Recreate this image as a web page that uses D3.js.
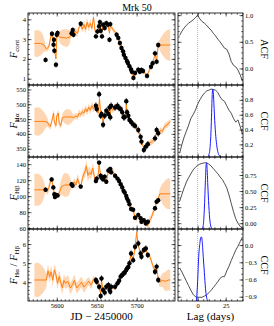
<!DOCTYPE html>
<html>
<head>
<meta charset="utf-8">
<script src="https://cdn.jsdelivr.net/npm/d3@7"></script>
<style>
body { margin: 0; background: #fff; }
text { font-family: "Liberation Serif", "DejaVu Serif", serif; }
</style>
</head>
<body>
<div id="chart-area"></div>
<script>
// light curves: [JD - 2450000, value]
const contPts = [[5586,1.95],[5594,3.27],[5596,2.72],[5596.5,2.97],[5597,2.41],[5599,1.7],[5600,3.22],[5601,3.31],
  [5618.6,3.3],[5620,3.46],[5621,3.22],[5630,3.78],[5649,3.14],[5651,3.39],[5653,3.65],[5654,3.86],[5655,3.42],
  [5656.6,3.14],[5658,3.73],[5660,3.56],[5662,3.81],[5664,3.73],[5666,2.97],[5667,3.76],[5675,3.22],[5677,3.06],
  [5679,2.8],[5681,2.55],[5683,2.38],[5684,2.21],[5686,2.05],[5688,1.88],[5689,1.79],[5691,1.63],[5693,1.46],
  [5694,1.35],[5696,1.04],[5698,1.29],[5702,1.45],[5704,1.35],[5706,1.44],[5708,1.39],[5713,1.14],[5718,1.6],
  [5720,1.78],[5723,2.28],[5725,1.86],[5727,2.7]];

const lineJD = [5649,5650,5653,5655,5656,5658,5660,5662,5664.6,5666,5667,5668,5673,5676,5678,5680,5682,5683.6,
  5685,5687,5688,5689.6,5691,5693,5695.6,5698,5702,5705,5706,5709,5711.5,5714,5723,5725,5727];
const haFlux = [495,484,534,461,467,431,461,478,467,489,456,495,489,495,487,484,473,456,456,510,473,461,447,
  440,432,427,413,390,374,346,357,365,385,413,402];
const hbFlux = [119,122,142,125.5,123,121,124.5,118,132,133,134,130,125.5,122,119,115,111,106.7,104.6,100.4,97,
  94,90,84,83,73,76.6,72.5,68,70,66,68,85,93,95];
const ratioVal = [4.12,4.03,3.77,3.28,4.2,3.6,3.46,3.77,3.86,3.6,3.5,3.77,3.77,3.95,4.08,4.3,4.38,4.47,4.5,4.64,
  4.73,4.8,5.0,5.51,5.16,5.86,6.03,5.51,5.34,5.69,5.77,5.43,4.55,4.82,4.12];
const hbEarlyPts = [[5586,108],[5593.6,121],[5595.7,111],[5597,102.5],[5597.7,99],[5599,101.7],[5601,101],
  [5618.6,115],[5619.8,113],[5630,112]];

// typical error bars [days, flux]
const contErr = [1, 0.13], haErr = [1, 11], hbErr = [1, 2.8], ratioErr = [1, 0.16];

// model light curves: [JD, mean, 1-sigma]
const contModel = [[5572,2.78,0.65],[5576,2.78,0.68],[5580,2.78,0.6],[5584,2.7,0.35],[5587,2.5,0.12],[5590,2.6,0.15],
  [5593,3.2,0.1],[5594.5,3.25,0.1],[5596,2.75,0.1],[5597.5,2.35,0.12],[5599,2.0,0.12],[5600,3.1,0.1],[5601.5,3.2,0.1],
  [5604,3.1,0.3],[5608,3.08,0.42],[5612,3.05,0.45],[5616,3.1,0.35],[5619,3.3,0.1],[5621,3.2,0.1],[5623,3.4,0.15],
  [5626,3.3,0.18],[5628,3.6,0.12],[5630,3.7,0.1],[5632,3.5,0.15],[5634,3.75,0.2],[5636,3.5,0.2],[5638,3.85,0.2],
  [5640,3.6,0.2],[5642,3.8,0.18],[5644,3.55,0.18],[5646,4.1,0.15],[5648,3.4,0.12],[5650,3.35,0.08],[5652,3.55,0.08],
  [5654,3.8,0.08],[5656,3.3,0.08],[5658,3.7,0.08],[5660,3.55,0.08],[5662,3.75,0.08],[5664,3.7,0.08],[5666,3.3,0.08],
  [5667,3.7,0.08],[5670,3.5,0.12],[5673,3.35,0.12],[5675,3.22,0.08],[5679,2.8,0.08],[5683,2.38,0.08],[5686,2.05,0.08],
  [5689,1.8,0.08],[5693,1.45,0.08],[5696,1.1,0.08],[5699,1.3,0.1],[5702,1.42,0.1],[5706,1.4,0.1],[5709,1.35,0.1],
  [5713,1.15,0.1],[5716,1.45,0.12],[5719,1.7,0.1],[5721,1.9,0.1],[5723,2.25,0.1],[5725,1.9,0.1],[5727,2.7,0.08],
  [5730,2.7,0.35],[5734,2.7,0.6],[5738,2.7,0.75],[5742,2.7,0.8]];
const haModel = [[5572,442,45],[5576,442,48],[5580,442,44],[5584,442,32],[5588,440,15],[5590,430,10],[5592,425,10],
  [5594,445,10],[5596,470,10],[5597,440,10],[5599,428,10],[5600,460,10],[5602,470,10],[5603,435,10],[5605,428,10],
  [5607,455,12],[5610,457,22],[5614,457,27],[5618,457,20],[5621,455,10],[5624,460,10],[5626,458,10],[5628,470,12],
  [5630,465,10],[5632,475,12],[5634,470,12],[5636,485,12],[5638,475,12],[5640,490,12],[5642,480,12],[5644,495,12],
  [5646,485,12],[5648,495,10],[5650,480,8],[5652,470,8],[5653.5,520,8],[5655,465,8],[5657,455,8],[5658,440,8],
  [5660,465,8],[5662,475,8],[5664,470,8],[5666,485,8],[5667,460,8],[5668,490,8],[5670,480,10],[5673,488,8],
  [5676,492,8],[5678,485,8],[5680,482,8],[5682,470,8],[5684,460,8],[5686,462,8],[5687,500,8],[5688,470,8],
  [5690,458,8],[5692,445,8],[5694,440,8],[5696,432,8],[5698,428,8],[5700,420,8],[5702,410,8],[5705,390,8],
  [5706,376,8],[5708,360,8],[5709,350,8],[5711,360,8],[5714,366,8],[5717,370,10],[5720,375,10],[5723,385,8],
  [5725,408,8],[5727,400,8],[5730,412,10],[5732,408,10],[5735,425,10],[5738,430,10],[5742,442,10]];
const hbModel = [[5572,108,20],[5576,108,20],[5580,108,18],[5584,108,10],[5586,108,3],[5588,106,4],[5590,110,5],
  [5592,118,4],[5593.6,121,3],[5595.7,111,3],[5597,102,3],[5598,99,3],[5599,101,3],[5601,101,3],[5603,104,6],
  [5606,112,10],[5610,114,15],[5614,114,14],[5617,114,8],[5618.6,115,3],[5620,113,3],[5622,118,4],[5624,114,4],
  [5626,122,5],[5628,116,5],[5630,112,3],[5632,122,5],[5634,128,6],[5636,132,7],[5637,138,7],[5639,126,7],
  [5641,130,7],[5643,127,6],[5645,135,6],[5647,125,5],[5649,119,3],[5650,122,3],[5652,128,3],[5653,140,3],
  [5655,125,3],[5656,123,3],[5658,121,3],[5660,124,3],[5662,118,3],[5664.6,131,3],[5666,133,3],[5667,134,3],
  [5668,130,3],[5670,131,4],[5673,125.5,3],[5676,122,3],[5678,119,3],[5680,115,3],[5682,111,3],[5684,106.7,3],
  [5685,104.6,3],[5687,100,3],[5688,97,3],[5690,93,3],[5691,90,3],[5693,85,3],[5695.6,82,3],[5698,74,3],
  [5700,72,4],[5702,75,3],[5705,71,3],[5706,68,3],[5709,68,3],[5711.5,65,3],[5714,63,3],[5716,70,4],[5718,72,4],
  [5720,78,4],[5723,85,3],[5725,93,3],[5727,97,3],[5729,103,6],[5732,103,12],[5736,103,17],[5740,103,19],[5742,103,19]];
const ratioModel = [[5572,4.12,0.85],[5576,4.12,0.9],[5580,4.12,0.8],[5584,4.12,0.6],[5587,4.12,0.35],[5589,4.6,0.3],
  [5591,4.3,0.3],[5593,4.55,0.28],[5595,4.1,0.28],[5597,4.65,0.28],[5599,4.4,0.28],[5601,3.95,0.28],[5603,4.3,0.3],
  [5605,4.0,0.3],[5607,3.7,0.3],[5609,4.1,0.3],[5611,3.95,0.3],[5614,4.05,0.3],[5617,3.7,0.3],[5620,3.9,0.28],
  [5622,4.1,0.28],[5625,3.7,0.28],[5628,3.85,0.28],[5631,4.0,0.28],[5634,3.75,0.28],[5637,3.9,0.25],[5640,4.05,0.22],
  [5643,3.85,0.2],[5646,4.15,0.18],[5649,4.1,0.1],[5651,4.0,0.1],[5653,3.75,0.1],[5655,3.4,0.1],[5656,4.1,0.1],
  [5658,3.55,0.1],[5660,3.5,0.1],[5662,3.75,0.1],[5664.6,3.8,0.1],[5666,3.6,0.1],[5667,3.55,0.1],[5668,3.75,0.1],
  [5670,3.7,0.12],[5673,3.78,0.1],[5676,3.95,0.1],[5678,4.05,0.1],[5680,4.25,0.1],[5682,4.35,0.1],[5684,4.45,0.1],
  [5685,4.5,0.1],[5687,4.62,0.1],[5688,4.72,0.1],[5690,4.85,0.1],[5691,5.05,0.1],[5693,5.45,0.1],[5695.6,5.2,0.1],
  [5698,5.8,0.1],[5700,6.6,0.12],[5702,5.95,0.1],[5705,5.5,0.1],[5706,5.4,0.1],[5709,5.65,0.1],[5711.5,5.7,0.1],
  [5714,5.45,0.1],[5717,5.3,0.15],[5720,4.9,0.15],[5723,4.6,0.1],[5725,4.75,0.1],[5727,4.2,0.1],[5729,4.0,0.25],
  [5732,4.1,0.35],[5736,4.05,0.5],[5740,4.12,0.55],[5742,4.12,0.55]];

// correlation functions
const ccfLag = [-16,-14,-12,-10,-8,-6,-4,-2,0,2,4,6,8,10,12,14,16,18,20,22,24,26,28,30,32,34,36,38,40];
const acf = [0.62,0.70,0.76,0.81,0.85,0.88,0.91,0.95,1.0,0.93,0.88,0.85,0.81,0.76,0.72,0.66,0.61,0.55,0.50,0.44,
  0.38,0.36,0.27,0.13,0.06,0.03,-0.03,-0.12,-0.24];
const ccfHa = [0.08,0.2,0.3,0.38,0.46,0.55,0.6,0.66,0.74,0.8,0.85,0.89,0.92,0.93,0.945,0.94,0.93,0.9,0.84,0.8,0.78,
  0.72,0.66,0.62,0.55,0.5,0.53,0.44,0.34];
const ccfHb = [0.34,0.45,0.55,0.64,0.71,0.77,0.83,0.87,0.9,0.92,0.93,0.94,0.94,0.92,0.89,0.85,0.81,0.77,0.72,0.68,
  0.62,0.55,0.44,0.31,0.18,0.07,0.0,-0.05,-0.08];
const ccfRatio = [-0.40,-0.47,-0.55,-0.63,-0.71,-0.79,-0.86,-0.90,-0.91,-0.91,-0.91,-0.89,-0.87,-0.83,-0.79,-0.74,
  -0.69,-0.64,-0.58,-0.55,-0.55,-0.45,-0.37,-0.27,-0.18,-0.09,-0.02,0.06,0.14];

// lag distributions (normalised)
const cccdHaLag = [9,10,11,12,12.5,13,13.5,14,14.5,15,16,17,18,19,20,21];
const cccdHa = [0,0.03,0.12,0.4,0.65,0.9,1.0,0.95,0.8,0.62,0.35,0.18,0.08,0.03,0.01,0];
const cccdHbLag = [4,5,6,7,7.5,8,8.5,9,10,11,12,13];
const cccdHb = [0,0.05,0.3,0.75,0.95,1.0,0.9,0.7,0.35,0.12,0.03,0];
const cccdRatioLag = [-1,0,1,2,3,3.5,4,5,6,7,8,9];
const cccdRatio = [0,0.3,0.7,0.9,1.0,1.0,0.95,0.7,0.45,0.2,0.06,0];

// tick labels
const jdTicks = [5600, 5650, 5700], lagTicks = [0, 25];
const contTicks = [1, 2, 3, 4], haTicks = [350, 400, 450, 500, 550], hbTicks = [60, 80, 100, 120, 140], ratioTicks = [4, 5, 6];
const acfTicks = [0, 0.5, 1.0], ccfHaTicks = [0.2, 0.4, 0.6, 0.8], ccfHbTicks = [0, 0.25, 0.5, 0.75], ccfRatioTicks = [-0.9, -0.6, -0.3, 0];

const svg = d3.select("#chart-area").append("svg").attr("width", 274).attr("height", 326);
svg.append("rect").attr("width", 274).attr("height", 326).attr("fill", "#fff");

const rowTop = [13, 85, 157, 229], rowH = 72;
const xJD = d3.scaleLinear().domain([5564, 5748]).range([28, 175]);
const xLag = d3.scaleLinear().domain([-17.5, 40.5]).range([178, 243]);
const yRange = i => [rowTop[i] + rowH, rowTop[i]];

const yCont = d3.scaleLinear().domain([0.68, 4.32]).range(yRange(0));
const yHa = d3.scaleLinear().domain([322, 565]).range(yRange(1));
const yHb = d3.scaleLinear().domain([59, 149]).range(yRange(2));
const yRatio = d3.scaleLinear().domain([3.02, 6.79]).range(yRange(3));
const yAcf = d3.scaleLinear().domain([-0.31, 1.04]).range(yRange(0));
const yCcfHa = d3.scaleLinear().domain([0.03, 1.0]).range(yRange(1));
const yCcfHb = d3.scaleLinear().domain([-0.09, 1.03]).range(yRange(2));
const yCcfRatio = d3.scaleLinear().domain([-0.975, 0.28]).range(yRange(3));

const orange = "#ff7f0e";

function axes(x, y, o) {
  const [xl, xr] = x.range(), [yb, yt] = y.range();
  const g = svg.append("g");
  const add = (gen, tr, vals, size, fmt) => {
    const a = g.append("g").attr("transform", tr)
      .call(gen.tickValues(vals).tickSize(size).tickPadding(2).tickFormat(fmt || (() => "")));
    a.select(".domain").remove();
    a.attr("font-family", null).attr("font-size", 6.5);
    a.selectAll("line").attr("stroke-width", 0.6);
    return a;
  };
  add(d3.axisBottom(x), `translate(0,${yb})`, o.xMinor, -1.8);
  add(d3.axisBottom(x), `translate(0,${yb})`, o.xTicks, -3.5, o.xLabels ? d3.format("d") : null);
  add(d3.axisTop(x), `translate(0,${yt})`, o.xMinor, -1.8);
  add(d3.axisTop(x), `translate(0,${yt})`, o.xTicks, -3.5);
  add(d3.axisLeft(y), `translate(${xl},0)`, o.yMinor, -1.8);
  add(d3.axisLeft(y), `translate(${xl},0)`, o.yTicks, -3.5, o.side === "left" ? o.yFmt : null);
  add(d3.axisRight(y), `translate(${xr},0)`, o.yMinor, -1.8);
  add(d3.axisRight(y), `translate(${xr},0)`, o.yTicks, -3.5, o.side === "right" ? o.yFmt : null);
  g.append("rect").attr("x", xl).attr("y", yt).attr("width", xr - xl).attr("height", yb - yt)
    .attr("fill", "none").attr("stroke", "#000").attr("stroke-width", 0.8);
}

function clipFor(id, x, y) {
  const [xl, xr] = x.range(), [yb, yt] = y.range();
  svg.append("clipPath").attr("id", id).append("rect")
    .attr("x", xl).attr("y", yt).attr("width", xr - xl).attr("height", yb - yt);
  return svg.append("g").attr("clip-path", `url(#${id})`);
}

function lightCurve(i, y, model, pts, err) {
  const g = clipFor("lc" + i, xJD, y);
  g.append("path").datum(model)
    .attr("d", d3.area().x(d => xJD(d[0])).y0(d => y(d[1] - d[2])).y1(d => y(d[1] + d[2])).curve(d3.curveMonotoneX))
    .attr("fill", orange).attr("fill-opacity", 0.32);
  g.append("path").datum(model)
    .attr("d", d3.line().x(d => xJD(d[0])).y(d => y(d[1])))
    .attr("fill", "none").attr("stroke", orange).attr("stroke-width", 1);
  const p = g.selectAll(".pt").data(pts).enter().append("g");
  p.append("line").attr("x1", d => xJD(d[0])).attr("x2", d => xJD(d[0]))
    .attr("y1", d => y(d[1] - err[1])).attr("y2", d => y(d[1] + err[1]))
    .attr("stroke", "#000").attr("stroke-width", 0.8);
  p.append("line").attr("x1", d => xJD(d[0] - err[0])).attr("x2", d => xJD(d[0] + err[0]))
    .attr("y1", d => y(d[1])).attr("y2", d => y(d[1]))
    .attr("stroke", "#000").attr("stroke-width", 0.8);
  p.append("circle").attr("cx", d => xJD(d[0])).attr("cy", d => y(d[1])).attr("r", 2.2).attr("fill", "#000");
}

function corrPanel(i, y, ccf, dLag, dens) {
  const g = clipFor("cf" + i, xLag, y);
  const [yb, yt] = y.range();
  g.append("line").attr("x1", xLag(0)).attr("x2", xLag(0)).attr("y1", yb).attr("y2", yt)
    .attr("stroke", "#aaa").attr("stroke-width", 0.8).attr("stroke-dasharray", "1,1");
  g.append("path").datum(ccfLag.map((l, k) => [l, ccf[k]]))
    .attr("d", d3.line().x(d => xLag(d[0])).y(d => y(d[1])))
    .attr("fill", "none").attr("stroke", "#222").attr("stroke-width", 0.8);
  if (dLag) {
    const yd = d3.scaleLinear().domain([0, 1]).range([yb, y(d3.max(ccf))]);
    g.append("path").datum(dLag.map((l, k) => [l, dens[k]]))
      .attr("d", d3.line().x(d => xLag(d[0])).y(d => yd(d[1])).curve(d3.curveMonotoneX))
      .attr("fill", "none").attr("stroke", "#1a1aff").attr("stroke-width", 1);
  }
}

const linePts = vals => lineJD.map((t, k) => [t, vals[k]]);
lightCurve(0, yCont, contModel, contPts, contErr);
lightCurve(1, yHa, haModel, linePts(haFlux), haErr);
lightCurve(2, yHb, hbModel, hbEarlyPts.concat(linePts(hbFlux)), hbErr);
lightCurve(3, yRatio, ratioModel, linePts(ratioVal), ratioErr);

corrPanel(0, yAcf, acf);
corrPanel(1, yCcfHa, ccfHa, cccdHaLag, cccdHa);
corrPanel(2, yCcfHb, ccfHb, cccdHbLag, cccdHb);
corrPanel(3, yCcfRatio, ccfRatio, cccdRatioLag, cccdRatio);

const jdMinor = d3.range(5565, 5750, 5), lagMinor = d3.range(-15, 41, 5);
const leftY = [[yCont, contTicks, d3.range(0.75, 4.31, 0.25)], [yHa, haTicks, d3.range(330, 561, 10)],
  [yHb, hbTicks, d3.range(60, 146, 5)], [yRatio, ratioTicks, d3.range(3.2, 6.75, 0.2)]];
const rightY = [[yAcf, acfTicks, d3.range(-0.3, 1.01, 0.1), d3.format(".1f")],
  [yCcfHa, ccfHaTicks, d3.range(0.05, 0.99, 0.05), d3.format(".1f")],
  [yCcfHb, ccfHbTicks, d3.range(-0.05, 1.01, 0.05), d3.format(".2f")],
  [yCcfRatio, ccfRatioTicks, d3.range(-0.9, 0.21, 0.1), d3.format(".1f")]];

leftY.forEach(([y, t, m], i) => axes(xJD, y, { xTicks: jdTicks, xMinor: jdMinor, xLabels: i === 3,
  yTicks: t, yMinor: m, yFmt: d3.format("d"), side: "left" }));
rightY.forEach(([y, t, m, f], i) => axes(xLag, y, { xTicks: lagTicks, xMinor: lagMinor, xLabels: i === 3,
  yTicks: t, yMinor: m, yFmt: f, side: "right" }));

// titles and labels
svg.append("text").attr("x", 137).attr("y", 11).attr("text-anchor", "middle").attr("font-size", 10).text("Mrk 50");
svg.append("text").attr("x", 101.5).attr("y", 320).attr("text-anchor", "middle").attr("font-size", 11).text("JD − 2450000");
svg.append("text").attr("x", 210.5).attr("y", 320).attr("text-anchor", "middle").attr("font-size", 11).text("Lag (days)");

const yLab = [["cont", null], ["Hα", null], ["Hβ", null], ["Hα", "Hβ"]];
yLab.forEach(([s1, s2], i) => {
  const t = svg.append("text").attr("font-size", 10.5).attr("text-anchor", "middle")
    .attr("transform", `translate(17,${rowTop[i] + rowH / 2}) rotate(-90)`);
  t.append("tspan").attr("font-style", "italic").text("F");
  t.append("tspan").attr("font-size", 7).attr("dy", 2).text(s1);
  if (s2) {
    t.append("tspan").attr("dy", -2).text(" / ");
    t.append("tspan").attr("font-style", "italic").text("F");
    t.append("tspan").attr("font-size", 7).attr("dy", 2).text(s2);
  }
});
["ACF", "CCF", "CCF", "CCF"].forEach((s, i) => {
  svg.append("text").attr("font-size", 10).attr("text-anchor", "middle")
    .attr("transform", `translate(261,${rowTop[i] + rowH / 2}) rotate(90)`).text(s);
});
</script>
</body>
</html>
